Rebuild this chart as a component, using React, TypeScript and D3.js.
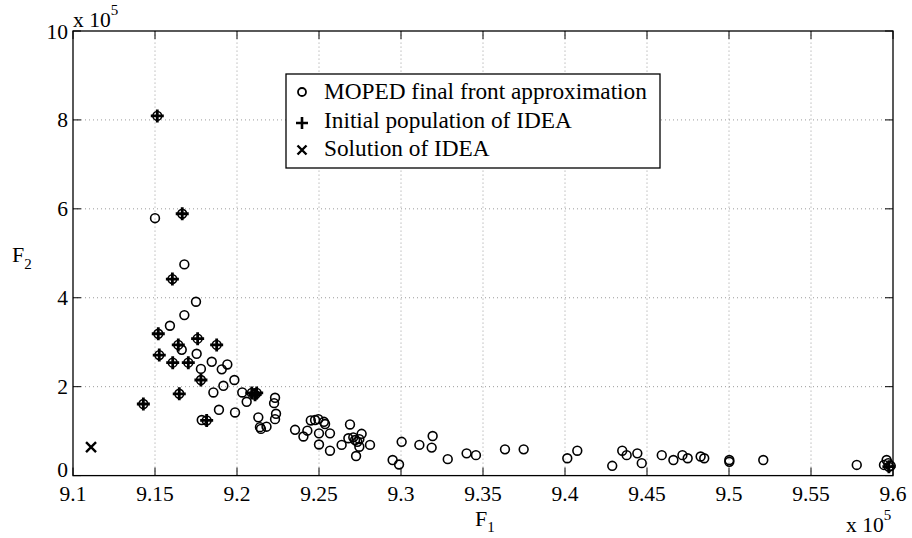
import React from "react";
import * as d3 from "d3";

// values in units of 1e5
const mopedF1 = [9.15, 9.1679, 9.175, 9.1679, 9.1591, 9.1663, 9.1754, 9.1846, 9.1941, 9.1907, 9.178, 9.1984, 9.1917, 9.1856, 9.2032, 9.2059, 9.2232, 9.2226, 9.189, 9.1988, 9.2238, 9.2232, 9.213, 9.1785, 9.214, 9.218, 9.2146, 9.2354, 9.2405, 9.2429, 9.245, 9.2476, 9.2496, 9.253, 9.2537, 9.25, 9.2567, 9.25, 9.2567, 9.2638, 9.2689, 9.2679, 9.2709, 9.272, 9.2734, 9.2746, 9.276, 9.2746, 9.2726, 9.2811, 9.2949, 9.2988, 9.3004, 9.3112, 9.3193, 9.3187, 9.3285, 9.34, 9.3457, 9.3634, 9.3748, 9.4014, 9.4075, 9.4288, 9.4349, 9.4376, 9.4441, 9.4468, 9.459, 9.4661, 9.4716, 9.4748, 9.4827, 9.4849, 9.5002, 9.5002, 9.5209, 9.5779, 9.5961, 9.5945, 9.5971, 9.5986];
const mopedF2 = [5.79, 4.75, 3.91, 3.61, 3.37, 2.83, 2.74, 2.56, 2.5, 2.39, 2.4, 2.15, 2.02, 1.87, 1.87, 1.66, 1.75, 1.63, 1.48, 1.42, 1.39, 1.27, 1.31, 1.25, 1.09, 1.1, 1.05, 1.03, 0.88, 1.01, 1.24, 1.25, 1.27, 1.21, 1.16, 0.95, 0.95, 0.7, 0.56, 0.69, 1.15, 0.84, 0.86, 0.8, 0.76, 0.82, 0.94, 0.65, 0.44, 0.69, 0.35, 0.25, 0.76, 0.69, 0.89, 0.63, 0.37, 0.5, 0.46, 0.59, 0.59, 0.39, 0.56, 0.22, 0.56, 0.46, 0.5, 0.28, 0.46, 0.35, 0.46, 0.39, 0.43, 0.39, 0.35, 0.31, 0.35, 0.24, 0.35, 0.24, 0.28, 0.22];

const initF1 = [9.1514, 9.1666, 9.1606, 9.152, 9.176, 9.1642, 9.1526, 9.1608, 9.1703, 9.178, 9.1876, 9.1648, 9.1429, 9.1815, 9.209, 9.211, 9.212, 9.5975];
const initF2 = [8.09, 5.89, 4.42, 3.19, 3.08, 2.94, 2.71, 2.54, 2.54, 2.15, 2.94, 1.84, 1.61, 1.24, 1.86, 1.82, 1.86, 0.2];

const solF1 = [9.111];
const solF2 = [0.64];

const xTicks = [9.1, 9.15, 9.2, 9.25, 9.3, 9.35, 9.4, 9.45, 9.5, 9.55, 9.6];
const yTicks = [0, 2, 4, 6, 8, 10];
const legendLabels = ["MOPED final front approximation", "Initial population of IDEA", "Solution of IDEA"];

const W = 912, H = 538;
const L = 73, R = 893, T = 31, B = 475.6;
const FONT = "'Liberation Serif', 'Times New Roman', 'DejaVu Serif', serif";

export default function App() {
  const x = d3.scaleLinear().domain([9.1, 9.6]).range([L, R]);
  const y = d3.scaleLinear().domain([0, 10]).range([B, T]);
  const fmtX = (v: number) => String(+v.toFixed(2));
  const tick = 8;
  const pr = 6.5;
  const cr = 4.4;
  return (
    <svg width={W} height={H} style={{ position: "absolute", left: 0, top: 0, background: "#fff", fontFamily: FONT }}>
      <rect x={0} y={0} width={W} height={H} fill="#fff" />
      {/* grid */}
      {xTicks.slice(1, -1).map((t) => (
        <line key={"gx" + t} x1={x(t)} x2={x(t)} y1={B} y2={T} stroke="#9a9a9a" strokeWidth={1} strokeDasharray="1,3" />
      ))}
      {yTicks.slice(1, -1).map((t) => (
        <line key={"gy" + t} x1={L} x2={R} y1={y(t)} y2={y(t)} stroke="#9a9a9a" strokeWidth={1} strokeDasharray="1,3" />
      ))}
      {/* ticks */}
      {xTicks.map((t) => (
        <g key={"tx" + t}>
          <line x1={x(t)} x2={x(t)} y1={B} y2={B - tick} stroke="#000" />
          <line x1={x(t)} x2={x(t)} y1={T} y2={T + tick} stroke="#000" />
          <text x={x(t)} y={501} textAnchor="middle" fontSize={21.5}>{fmtX(t)}</text>
        </g>
      ))}
      {yTicks.map((t) => (
        <g key={"ty" + t}>
          <line x1={L} x2={L + tick} y1={y(t)} y2={y(t)} stroke="#000" />
          <line x1={R} x2={R - tick} y1={y(t)} y2={y(t)} stroke="#000" />
          <text x={68} y={y(t) + (t === 0 ? 1.5 : 7.5)} textAnchor="end" fontSize={21.5}>{t}</text>
        </g>
      ))}
      {/* MOPED circles */}
      {mopedF1.map((v, i) => (
        <circle key={"m" + i} cx={x(v)} cy={y(mopedF2[i])} r={cr} fill="none" stroke="#000" strokeWidth={1.6} />
      ))}
      {/* initial population */}
      {initF1.map((v, i) => (
        <g key={"p" + i}>
          <circle cx={x(v)} cy={y(initF2[i])} r={cr} fill="none" stroke="#000" strokeWidth={1.6} />
          <path d={`M${x(v) - pr},${y(initF2[i])}H${x(v) + pr}M${x(v)},${y(initF2[i]) - pr}V${y(initF2[i]) + pr}`} stroke="#000" strokeWidth={2.8} />
        </g>
      ))}
      {/* solution */}
      {solF1.map((v, i) => (
        <path key={"s" + i} d={`M${x(v) - 5},${y(solF2[i]) - 5}L${x(v) + 5},${y(solF2[i]) + 5}M${x(v) - 5},${y(solF2[i]) + 5}L${x(v) + 5},${y(solF2[i]) - 5}`} stroke="#000" strokeWidth={2.4} />
      ))}
      {/* axes box */}
      <rect x={L} y={T} width={R - L} height={B - T} fill="none" stroke="#000" strokeWidth={1.3} />
      {/* exponent labels */}
      <text x={73} y={27} fontSize={21.5}>x 10<tspan fontSize={15} dy={-12}>5</tspan></text>
      <text x={846} y={532} fontSize={21.5}>x 10<tspan fontSize={15} dy={-12}>5</tspan></text>
      {/* axis labels */}
      <text x={(L + R) / 2 - 8} y={526} fontSize={22}>F<tspan fontSize={15} dy={6}>1</tspan></text>
      <text x={12} y={262} fontSize={22}>F<tspan fontSize={15} dy={7}>2</tspan></text>
      {/* legend */}
      <rect x={286} y={74} width={374} height={94} fill="#fff" stroke="#000" strokeWidth={1.3} />
      <circle cx={302} cy={92} r={4} fill="none" stroke="#000" strokeWidth={1.8} />
      <path d="M296,123H308M302,117V129" stroke="#000" strokeWidth={2.6} />
      <path d="M297.5,145.5L306.5,154.5M297.5,154.5L306.5,145.5" stroke="#000" strokeWidth={2.4} />
      {legendLabels.map((s, i) => (
        <text key={s} x={324} y={99 + i * 28.5} fontSize={23.3}>{s}</text>
      ))}
    </svg>
  );
}
